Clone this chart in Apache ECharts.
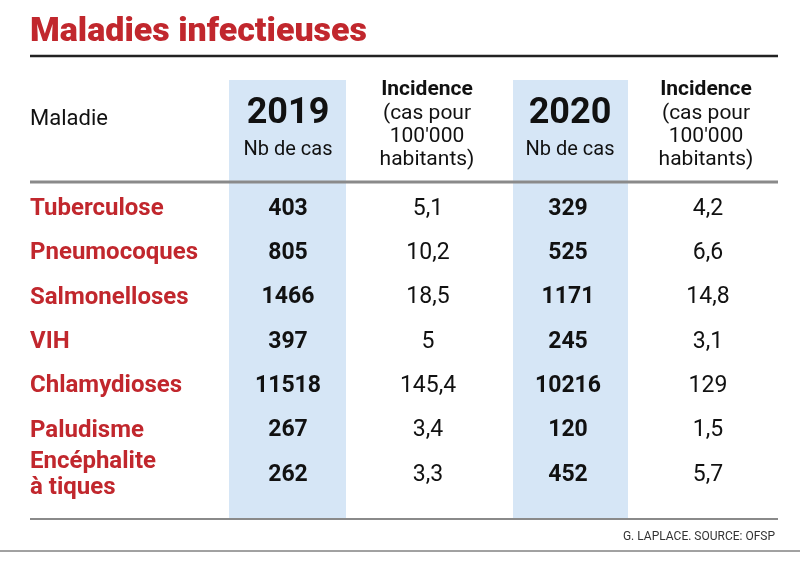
<!DOCTYPE html>
<html><head><meta charset="utf-8">
<script src="https://cdn.jsdelivr.net/npm/echarts@6/dist/echarts.min.js"></script>
<style>html,body{margin:0;padding:0;background:#fff}#c{width:800px;height:561px}</style>
</head><body><div id="c"></div>
<script>
const diseases = ['Tuberculose','Pneumocoques','Salmonelloses','VIH','Chlamydioses','Paludisme','Encéphalite\nà tiques'];
const columns = ['n2019','i2019','n2020','i2020'];
const cases2019 = [403,805,1466,397,11518,267,262];
const incidence2019 = [5.1,10.2,18.5,5,145.4,3.4,3.3];
const cases2020 = [329,525,1171,245,10216,120,452];
const incidence2020 = [4.2,6.6,14.8,3.1,129,1.5,5.7];

const F = 'Roboto, "Liberation Sans", sans-serif';
const RED = '#c1272d', BLUE = '#d6e6f6', INK = '#111';
const fmt = v => String(v).replace('.', ',');
function ser(col, vals, bold) {
  return {type:'scatter', symbolSize:0, z:5, itemStyle:{opacity:1},
    data: vals.map((v,i)=>[col, diseases[i], v]),
    label:{show:true, position:'inside', formatter:p=>fmt(p.value[2]),
      fontFamily:F, fontSize:23, fontWeight:bold?'bold':'normal', color:INK, opacity:1}};
}
const chart = echarts.init(document.getElementById('c'));
const hdr = (x,y,t,size,w)=>({type:'text',x,y,style:{text:t,font:`${w||'normal'} ${size}px ${F}`,fill:INK,textAlign:'center',textVerticalAlign:'middle'}});
chart.setOption({
  animation:false,
  grid:{left:218, width:560, top:187, height:310},
  xAxis:{type:'category', data:columns, show:false},
  yAxis:{type:'category', data:diseases, inverse:true,
    axisLine:{show:false}, axisTick:{show:false}, splitLine:{show:false},
    axisLabel:{align:'left', margin:188, fontFamily:F, fontSize:24, fontWeight:'bold', color:RED, lineHeight:26}},
  graphic:[
    {type:'rect',shape:{x:229,y:80,width:117,height:438},style:{fill:BLUE},z:-10},
    {type:'rect',shape:{x:513,y:80,width:115,height:438},style:{fill:BLUE},z:-10},
    {type:'text',x:30,y:32,style:{text:'Maladies infectieuses',font:`900 34px ${F}`,fill:RED,textVerticalAlign:'middle'}},
    {type:'line',shape:{x1:30,y1:56,x2:778,y2:56},style:{stroke:'#222',lineWidth:2.5}},
    {type:'text',x:30,y:119,style:{text:'Maladie',font:`normal 22px ${F}`,fill:INK,textVerticalAlign:'middle'}},
    hdr(288,114,'2019',36,'bold'), hdr(288,150,'Nb de cas',20),
    hdr(570,114,'2020',36,'bold'), hdr(570,150,'Nb de cas',20),
    hdr(427,90,'Incidence',21,'bold'), hdr(427,114,'(cas pour',21), hdr(427,137,"100'000",21), hdr(427,160,'habitants)',21),
    hdr(706,90,'Incidence',21,'bold'), hdr(706,114,'(cas pour',21), hdr(706,137,"100'000",21), hdr(706,160,'habitants)',21),
    {type:'line',shape:{x1:30,y1:182,x2:778,y2:182},style:{stroke:'#8a8a8a',lineWidth:3}},
    {type:'line',shape:{x1:30,y1:519,x2:778,y2:519},style:{stroke:'#8a8a8a',lineWidth:2}},
    {type:'text',x:775,y:537,style:{text:'G. LAPLACE. SOURCE: OFSP',font:`normal 12px ${F}`,fill:'#333',textAlign:'right',textVerticalAlign:'middle'}},
    {type:'line',shape:{x1:0,y1:551,x2:800,y2:551},style:{stroke:'#444',lineWidth:1}}
  ],
  series:[ser('n2019',cases2019,true), ser('i2019',incidence2019,false), ser('n2020',cases2020,true), ser('i2020',incidence2020,false)]
});
</script></body></html>
